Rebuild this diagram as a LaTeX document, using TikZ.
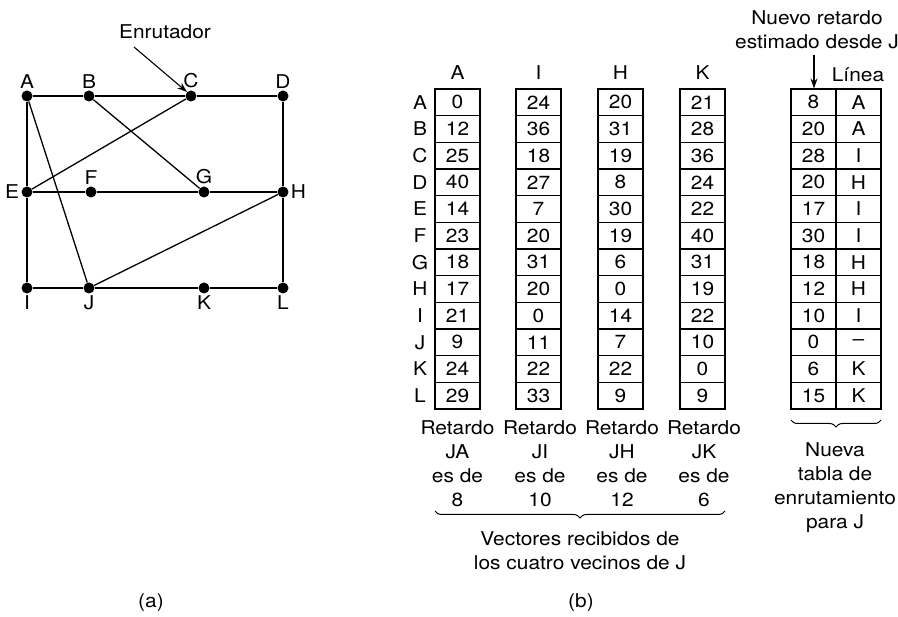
\documentclass[tikz,border=0pt]{standalone}
\usepackage{fontspec}
\setmainfont[FakeStretch=1.1]{TeX Gyre Heros}
\usetikzlibrary{decorations.pathreplacing,arrows.meta}
\begin{document}
\begin{tikzpicture}[x=1pt,y=-1pt,
  font=\fontsize{19}{24}\selectfont,
  dot/.style={circle,fill,inner sep=0pt,minimum size=11pt},
  lbl/.style={inner sep=1pt,label distance=1pt},
  edge/.style={line width=1.3pt},
  cell/.style={draw,line width=1.1pt,minimum width=45pt,minimum height=26.67pt,inner sep=0pt},
  half/.style={draw,line width=1.1pt,minimum width=45pt,minimum height=26.67pt,inner sep=0pt},
  txt/.style={inner sep=0pt,align=center},
  brc/.style={decorate,decoration={brace,amplitude=7pt},line width=1pt}]
\useasboundingbox (0,0) rectangle (898,617);
% ---------- (a) graph ----------
\node[dot,label={[lbl]above:A}] (A) at (27,96) {};
\node[dot,label={[lbl]above:B}] (B) at (89,96) {};
\node[dot,label={[lbl]above:C}] (C) at (191,96) {};
\node[dot,label={[lbl]above:D}] (D) at (283,96) {};
\node[dot,label={[lbl]left:E}] (E) at (27,192) {};
\node[dot,label={[lbl]above:F}] (F) at (91,192) {};
\node[dot,label={[lbl]above:G}] (G) at (204,192) {};
\node[dot,label={[lbl]right:H}] (H) at (283,192) {};
\node[dot,label={[lbl]below:I}] (I) at (27,288) {};
\node[dot,label={[lbl]below:J}] (J) at (89,288) {};
\node[dot,label={[lbl]below:K}] (K) at (204,288) {};
\node[dot,label={[lbl]below:L}] (L) at (283,288) {};
\draw[edge] (A) -- (B) -- (C) -- (D) -- (H) -- (L) -- (K) -- (J) -- (I) -- (E) -- (A);
\draw[edge] (E) -- (F) -- (G) -- (H);
\draw[edge] (A) -- (J);
\draw[edge] (B) -- (G);
\draw[edge] (E) -- (C);
\draw[edge] (J) -- (H);
\node[txt] (enr) at (165,32) {Enrutador};
\coordinate (enrs) at (134,47);
\draw[line width=1.1pt,-{Stealth[length=10pt,width=7pt]}] (enrs) -- (C.north west);
\node[txt] (capa) at (151,603) {(a)};
% ---------- (b) tables ----------
\node[txt] (hA) at (457.5,73) {A};
\node[txt] (hI) at (538.5,73) {I};
\node[txt] (hH) at (620.5,73) {H};
\node[txt] (hK) at (702.5,73) {K};
\foreach \r [count=\i] in {A,B,C,D,E,F,G,H,I,J,K,L}
  \node[txt] (r\i) at (420,75.67+26.67*\i) {\r};
\foreach \v [count=\i] in {0,12,25,40,14,23,18,17,21,9,24,29}
  \node[cell] (ca\i) at (457.5,75.67+26.67*\i) {\v};
\foreach \v [count=\i] in {24,36,18,27,7,20,31,20,0,11,22,33}
  \node[cell] (ci\i) at (538.5,75.67+26.67*\i) {\v};
\foreach \v [count=\i] in {20,31,19,8,30,19,6,0,14,7,22,9}
  \node[cell] (ch\i) at (620.5,75.67+26.67*\i) {\v};
\foreach \v [count=\i] in {21,28,36,24,22,40,31,19,22,10,0,9}
  \node[cell] (ck\i) at (702.5,75.67+26.67*\i) {\v};
\foreach \v [count=\i] in {8,20,28,20,17,30,18,12,10,0,6,15}
  \node[half] (nd\i) at (813.5,75.67+26.67*\i) {\v};
\foreach \v [count=\i] in {A,A,I,H,I,I,H,H,I,--,K,K}
  \node[half] (nl\i) at (858.5,75.67+26.67*\i) {\v};
\node[txt] (nuevo) at (817,30) {Nuevo retardo\\estimado desde J};
\node[txt] (linea) at (858,75) {Línea};
\coordinate (arrs) at (814,55);
\draw[line width=1.1pt,-{Stealth[length=10pt,width=7pt]}] (arrs) -- (nd1.north -| arrs);
\node[txt] (dA) at (457.5,464) {Retardo\\JA\\es de\\8};
\node[txt] (dI) at (540,464) {Retardo\\JI\\es de\\10};
\node[txt] (dH) at (622,464) {Retardo\\JH\\es de\\12};
\node[txt] (dK) at (704,464) {Retardo\\JK\\es de\\6};
\coordinate (b1s) at (435,511);
\coordinate (b1e) at (725,511);
\draw[brc] (b1e) -- (b1s);
\node[txt] (vec) at (580,551) {Vectores recibidos de\\los cuatro vecinos de J};
\coordinate (b2s) at (791,420);
\coordinate (b2e) at (881,420);
\draw[brc] (b2e) -- (b2s);
\node[txt] (nueva) at (835,488) {Nueva\\tabla de\\enrutamiento\\para J};
\node[txt] (capb) at (581,603) {(b)};
\end{tikzpicture}
\end{document}
